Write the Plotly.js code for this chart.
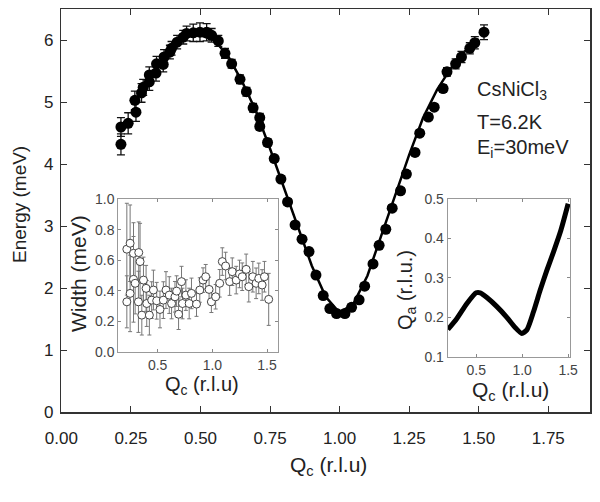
<!DOCTYPE html>
<html>
<head>
<meta charset="utf-8">
<script src="https://cdn.plot.ly/plotly-3.0.1.min.js"></script>
<style>html,body{margin:0;padding:0;background:#fff}#plot{width:600px;height:502px}</style>
</head>
<body>
<div id="plot"></div>
<script>
// Main panel: measured dispersion
const qMain = [0.214,0.214,0.240,0.264,0.268,0.288,0.294,0.316,0.316,0.340,0.342,0.366,0.369,0.390,0.396,0.416,0.438,0.450,0.474,0.498,0.522,0.540,0.564,0.588,0.612,0.642,0.665,0.689,0.713,0.713,0.741,0.765,0.789,0.813,0.840,0.865,0.890,0.915,0.941,0.965,0.989,1.019,1.043,1.070,1.090,1.120,1.142,1.166,1.189,1.219,1.240,1.271,1.288,1.319,1.340,1.372,1.386,1.417,1.438,1.468,1.486,1.519];
const eMain = [4.32,4.60,4.66,5.03,4.84,5.15,5.24,5.33,5.44,5.47,5.62,5.61,5.73,5.81,5.87,5.97,6.05,6.11,6.12,6.13,6.13,6.08,5.99,5.79,5.62,5.37,5.17,4.91,4.75,4.61,4.35,4.09,3.76,3.39,3.02,2.79,2.59,2.21,1.88,1.67,1.59,1.59,1.69,1.81,2.03,2.39,2.69,2.95,3.29,3.57,3.84,4.19,4.50,4.76,4.92,5.22,5.49,5.62,5.73,5.87,5.96,6.13];
const eErr = [0.17,0.15,0.17,0.15,0.15,0.15,0.13,0.14,0.13,0.13,0.12,0.12,0.12,0.11,0.11,0.11,0.11,0.12,0.14,0.15,0.14,0.11,0.09,0.08,0.07,0.07,0.07,0.07,0.07,0.06,0.06,0.05,0.05,0.05,0.05,0.05,0.05,0.05,0.05,0.05,0.05,0.05,0.05,0.05,0.05,0.05,0.05,0.05,0.05,0.05,0.05,0.05,0.05,0.05,0.05,0.06,0.07,0.08,0.09,0.09,0.10,0.12];
// Main panel: fit line
const qFit = [0.45,0.50,0.55,0.60,0.65,0.70,0.75,0.80,0.85,0.90,0.95,1.00,1.05,1.10,1.15,1.20,1.25,1.30,1.35,1.40,1.45,1.50];
const eFit = [6.06,6.08,6.00,5.74,5.33,4.85,4.25,3.62,2.97,2.36,1.86,1.60,1.75,2.20,2.85,3.50,4.15,4.75,5.20,5.55,5.82,6.02];
// Inset 1: width
const qWidth = [0.218,0.248,0.218,0.248,0.279,0.294,0.279,0.327,0.339,0.324,0.355,0.370,0.394,0.400,0.424,0.445,0.461,0.491,0.521,0.552,0.576,0.606,0.627,0.658,0.673,0.691,0.718,0.727,0.758,0.788,0.809,0.855,0.885,0.915,0.939,0.970,0.991,1.030,1.067,1.091,1.121,1.158,1.182,1.218,1.248,1.273,1.309,1.333,1.370,1.400,1.424,1.455,1.476,1.515];
const wWidth = [0.672,0.711,0.328,0.383,0.475,0.449,0.645,0.650,0.591,0.328,0.241,0.470,0.416,0.317,0.241,0.339,0.405,0.335,0.278,0.339,0.405,0.372,0.317,0.361,0.398,0.247,0.460,0.317,0.372,0.317,0.383,0.313,0.405,0.470,0.492,0.409,0.328,0.361,0.449,0.591,0.562,0.460,0.525,0.470,0.510,0.492,0.540,0.427,0.492,0.449,0.481,0.438,0.492,0.344];
const wErr = [0.30,0.25,0.17,0.25,0.28,0.20,0.20,0.20,0.25,0.20,0.13,0.15,0.15,0.15,0.13,0.12,0.13,0.12,0.12,0.12,0.12,0.12,0.10,0.10,0.10,0.10,0.10,0.10,0.10,0.10,0.10,0.08,0.08,0.08,0.08,0.08,0.07,0.08,0.09,0.09,0.09,0.09,0.09,0.09,0.09,0.09,0.10,0.10,0.10,0.10,0.10,0.10,0.10,0.17];
// Inset 2: Qa
const qA = [0.192,0.290,0.399,0.500,0.543,0.616,0.725,0.833,0.924,0.996,1.051,1.123,1.196,1.268,1.341,1.420,1.500];
const qaVal = [0.169,0.197,0.235,0.262,0.262,0.250,0.227,0.200,0.174,0.159,0.168,0.214,0.269,0.319,0.366,0.420,0.488];

const mainTicks = [0,0.25,0.5,0.75,1.0,1.25,1.5,1.75];
const mainTickText = ['0.00','0.25','0.50','0.75','1.00','1.25','1.50','1.75'];

const FONT = 'Liberation Sans, Arial, sans-serif';
const W = 600, H = 502;
const px = v => v / W, py = v => 1 - v / H;

const traces = [
  {x:qFit, y:eFit, mode:'lines', line:{color:'#000', width:2.5}, xaxis:'x', yaxis:'y', hoverinfo:'skip'},
  {x:qMain, y:eMain, mode:'markers', marker:{color:'#000', size:11},
   error_y:{type:'data', array:eErr, color:'#111', thickness:1.3, width:4}, xaxis:'x', yaxis:'y'},
  {x:qWidth, y:wWidth, mode:'markers', marker:{color:'#fff', size:8, line:{color:'#444', width:1}},
   error_y:{type:'data', array:wErr, color:'#777', thickness:1, width:2}, xaxis:'x2', yaxis:'y2'},
  {x:qA, y:qaVal, mode:'lines', line:{color:'#000', width:5, shape:'spline', smoothing:0.6}, xaxis:'x3', yaxis:'y3'}
];

const axMain = {showline:true, mirror:'ticks', linecolor:'#333', linewidth:1.5, ticks:'inside', ticklen:6, tickcolor:'#333', showgrid:false, zeroline:false, tickfont:{family:FONT, size:17, color:'#222'}};
const axInset = {showline:true, mirror:'ticks', linecolor:'#999', linewidth:1, ticks:'inside', ticklen:3, tickcolor:'#888', showgrid:false, zeroline:false, tickfont:{family:FONT, size:14, color:'#444'}};

function note(x, y, text, size, extra) {
  return Object.assign({xref:'paper', yref:'paper', x:px(x), y:py(y), text:text, showarrow:false,
    xanchor:'center', yanchor:'middle', font:{family:FONT, size:size, color:'#222'}}, extra || {});
}

const layout = {
  width:W, height:H, margin:{l:0,r:0,t:0,b:0}, paper_bgcolor:'#fff', plot_bgcolor:'rgba(0,0,0,0)', showlegend:false,
  xaxis: Object.assign({}, axMain, {domain:[px(61.4), px(590)], range:[0,1.9], tickvals:mainTicks, ticktext:mainTickText, anchor:'y', ticklabelstandoff:10}),
  yaxis: Object.assign({}, axMain, {domain:[py(412), py(9.3)], range:[0,6.5], tickvals:[0,1,2,3,4,5,6], anchor:'x', ticklabelstandoff:3}),
  xaxis2: Object.assign({}, axInset, {domain:[px(118.3), px(278)], range:[0.14,1.6], tickvals:[0.5,1.0,1.5], ticktext:['0.5','1.0','1.5'], anchor:'y2'}),
  yaxis2: Object.assign({}, axInset, {domain:[py(352), py(199)], range:[0,1.0], tickvals:[0,0.2,0.4,0.6,0.8,1.0], ticktext:['0.0','0.2','0.4','0.6','0.8','1.0'], anchor:'x2'}),
  xaxis3: Object.assign({}, axInset, {domain:[px(447.7), px(570)], range:[0.19,1.52], tickvals:[0.5,1.0,1.5], ticktext:['0.5','1.0','1.5'], anchor:'y3'}),
  yaxis3: Object.assign({}, axInset, {domain:[py(356.7), py(199)], range:[0.1,0.5], tickvals:[0.1,0.2,0.3,0.4,0.5], anchor:'x3'}),
  annotations: [
    note(328, 466, 'Q<sub>c</sub> (r.l.u)', 21),
    note(19, 205, 'Energy (meV)', 19, {textangle:-90}),
    note(202, 385, 'Q<sub>c</sub> (r.l.u)', 20),
    note(78, 274, 'Width (meV)', 21, {textangle:-90}),
    note(510, 391, 'Q<sub>c</sub> (r.l.u)', 21),
    note(406, 290, 'Q<sub>a</sub> (r.l.u.)', 20, {textangle:-90}),
    note(475, 90, 'CsNiCl<sub>3</sub>', 20, {xanchor:'left'}),
    note(475, 122, 'T=6.2K', 20, {xanchor:'left'}),
    note(475, 149, 'E<sub>i</sub>=30meV', 20, {xanchor:'left'})
  ]
};

Plotly.newPlot('plot', traces, layout, {staticPlot:true, displayModeBar:false});
</script>
</body>
</html>
